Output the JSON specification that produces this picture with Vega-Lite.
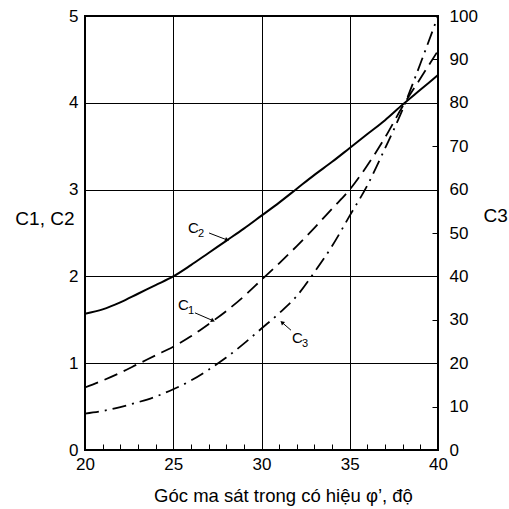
{
  "$schema": "https://vega.github.io/schema/vega-lite/v6.json",
  "width": 353,
  "height": 434,
  "autosize": {"type": "none"},
  "padding": {"left": 85, "top": 16, "right": 71, "bottom": 59},
  "background": "white",
  "config": {
    "font": "Liberation Sans",
    "view": {"stroke": "#000", "strokeWidth": 2},
    "axis": {"labelColor": "#000", "titleColor": "#000", "titleFontWeight": "normal", "labelFlush": false, "labelOverlap": false}
  },
  "datasets": {
    "curves": [
      {"x": 20, "c1": 0.72, "c2": 1.57, "c3": 8.4},
      {"x": 21, "c1": 0.80, "c2": 1.62, "c3": 9.0},
      {"x": 22, "c1": 0.89, "c2": 1.70, "c3": 9.9},
      {"x": 23, "c1": 0.99, "c2": 1.80, "c3": 11.0},
      {"x": 24, "c1": 1.09, "c2": 1.90, "c3": 12.3},
      {"x": 25, "c1": 1.19, "c2": 2.00, "c3": 14.0},
      {"x": 26, "c1": 1.31, "c2": 2.13, "c3": 16.0},
      {"x": 27, "c1": 1.45, "c2": 2.27, "c3": 18.5},
      {"x": 28, "c1": 1.60, "c2": 2.41, "c3": 21.3},
      {"x": 29, "c1": 1.77, "c2": 2.55, "c3": 24.5},
      {"x": 30, "c1": 1.96, "c2": 2.70, "c3": 28.0},
      {"x": 31, "c1": 2.15, "c2": 2.85, "c3": 31.5},
      {"x": 32, "c1": 2.35, "c2": 3.01, "c3": 35.5},
      {"x": 33, "c1": 2.56, "c2": 3.17, "c3": 41.0},
      {"x": 34, "c1": 2.78, "c2": 3.32, "c3": 47.0},
      {"x": 35, "c1": 3.00, "c2": 3.48, "c3": 54.0},
      {"x": 36, "c1": 3.28, "c2": 3.64, "c3": 61.0},
      {"x": 37, "c1": 3.60, "c2": 3.80, "c3": 69.5},
      {"x": 38, "c1": 3.96, "c2": 3.98, "c3": 78.5},
      {"x": 39, "c1": 4.28, "c2": 4.15, "c3": 89.0},
      {"x": 40, "c1": 4.60, "c2": 4.32, "c3": 100.0}
    ],
    "labels": [
      {"name": "C2", "main": "C", "sub": "2", "lx": 25.84, "ly": 2.50, "tx": 27.03, "ty": 2.50, "hx": 28.05, "hy": 2.42},
      {"name": "C1", "main": "C", "sub": "1", "lx": 25.27, "ly": 1.61, "tx": 26.23, "ty": 1.58, "hx": 27.25, "hy": 1.49},
      {"name": "C3", "main": "C", "sub": "3", "lx": 31.73, "ly": 1.23, "tx": 31.67, "ty": 1.38, "hx": 31.16, "hy": 1.47}
    ]
  },
  "resolve": {"scale": {"y": "independent"}, "axis": {"x": "independent", "y": "independent"}},
  "layer": [
    {
      "data": {"name": "curves"},
      "mark": {"type": "line", "color": "#000", "strokeWidth": 2, "interpolate": "monotone"},
      "encoding": {
        "x": {"field": "x", "type": "quantitative", "scale": {"domain": [20, 40], "nice": false},
          "axis": {"orient": "bottom", "values": [20, 25, 30, 35, 40], "grid": true, "gridColor": "#000", "gridOpacity": 1, "gridWidth": 1, "domain": false, "ticks": false, "labelPadding": 6, "labelFontSize": 17, "title": "Góc ma sát trong có hiệu φ’, độ", "titleFontSize": 18.5, "titleX": 198, "titleY": 45, "titleBaseline": "middle", "titleAlign": "center"}},
        "y": {"field": "c2", "type": "quantitative", "scale": {"domain": [0, 5], "nice": false},
          "axis": {"orient": "left", "values": [0, 1, 2, 3, 4, 5], "grid": true, "gridColor": "#000", "gridOpacity": 1, "gridWidth": 1, "domain": false, "ticks": false, "labelPadding": 7, "labelFontSize": 17, "title": "C1, C2", "titleFontSize": 19, "titleAngle": 0, "titleAlign": "right", "titleBaseline": "middle", "titleX": -11, "titleY": 202}}
      }
    },
    {
      "data": {"name": "curves"},
      "mark": {"type": "line", "color": "#000", "strokeWidth": 1.8, "strokeDash": [14, 7], "interpolate": "monotone"},
      "encoding": {
        "x": {"field": "x", "type": "quantitative", "scale": {"domain": [20, 40], "nice": false},
          "axis": {"orient": "bottom", "offset": -6, "values": [21, 22, 23, 24, 26, 27, 28, 29, 31, 32, 33, 34, 36, 37, 38, 39], "grid": false, "domain": false, "labels": false, "ticks": true, "tickSize": 6, "tickColor": "#000", "tickWidth": 1, "title": null}},
        "y": {"field": "c1", "type": "quantitative", "scale": {"domain": [0, 5], "nice": false}, "axis": null}
      }
    },
    {
      "data": {"name": "curves"},
      "mark": {"type": "line", "color": "#000", "strokeWidth": 1.8, "strokeDash": [14, 6, 2, 6], "interpolate": "monotone"},
      "encoding": {
        "x": {"field": "x", "type": "quantitative", "scale": {"domain": [20, 40], "nice": false}, "axis": null},
        "y": {"field": "c3", "type": "quantitative", "scale": {"domain": [0, 100], "nice": false},
          "axis": {"orient": "right", "offset": -6, "values": [0, 10, 20, 30, 40, 50, 60, 70, 80, 90, 100], "grid": false, "domain": false, "ticks": true, "tickSize": 6, "tickColor": "#000", "tickWidth": 1, "labelPadding": 11, "labelFontSize": 17, "title": "C3", "titleFontSize": 19, "titleAngle": 0, "titleAlign": "left", "titleBaseline": "middle", "titleX": 51, "titleY": 199}}
      }
    },
    {
      "data": {"name": "labels"},
      "mark": {"type": "text", "fontSize": 15, "align": "left", "baseline": "alphabetic", "color": "#000"},
      "encoding": {
        "x": {"field": "lx", "type": "quantitative", "scale": {"domain": [20, 40], "nice": false}, "axis": null},
        "y": {"field": "ly", "type": "quantitative", "scale": {"domain": [0, 5], "nice": false}, "axis": null},
        "text": {"field": "main"}
      }
    },
    {
      "data": {"name": "labels"},
      "mark": {"type": "text", "fontSize": 11, "align": "left", "baseline": "alphabetic", "dx": 10, "dy": 4, "color": "#000"},
      "encoding": {
        "x": {"field": "lx", "type": "quantitative", "scale": {"domain": [20, 40], "nice": false}, "axis": null},
        "y": {"field": "ly", "type": "quantitative", "scale": {"domain": [0, 5], "nice": false}, "axis": null},
        "text": {"field": "sub"}
      }
    },
    {
      "data": {"name": "labels"},
      "mark": {"type": "rule", "color": "#000", "strokeWidth": 1},
      "encoding": {
        "x": {"field": "tx", "type": "quantitative", "scale": {"domain": [20, 40], "nice": false}, "axis": null},
        "y": {"field": "ty", "type": "quantitative", "scale": {"domain": [0, 5], "nice": false}, "axis": null},
        "x2": {"field": "hx"},
        "y2": {"field": "hy"}
      }
    },
    {
      "data": {"name": "labels"},
      "transform": [{"filter": "datum.name === 'C2'"}],
      "mark": {"type": "point", "shape": "triangle-right", "filled": true, "color": "#000", "size": 22, "angle": 21, "opacity": 1},
      "encoding": {
        "x": {"field": "hx", "type": "quantitative", "scale": {"domain": [20, 40], "nice": false}, "axis": null},
        "y": {"field": "hy", "type": "quantitative", "scale": {"domain": [0, 5], "nice": false}, "axis": null}
      }
    },
    {
      "data": {"name": "labels"},
      "transform": [{"filter": "datum.name === 'C1'"}],
      "mark": {"type": "point", "shape": "triangle-right", "filled": true, "color": "#000", "size": 22, "angle": 24, "opacity": 1},
      "encoding": {
        "x": {"field": "hx", "type": "quantitative", "scale": {"domain": [20, 40], "nice": false}, "axis": null},
        "y": {"field": "hy", "type": "quantitative", "scale": {"domain": [0, 5], "nice": false}, "axis": null}
      }
    },
    {
      "data": {"name": "labels"},
      "transform": [{"filter": "datum.name === 'C3'"}],
      "mark": {"type": "point", "shape": "triangle-right", "filled": true, "color": "#000", "size": 22, "angle": 222, "opacity": 1},
      "encoding": {
        "x": {"field": "hx", "type": "quantitative", "scale": {"domain": [20, 40], "nice": false}, "axis": null},
        "y": {"field": "hy", "type": "quantitative", "scale": {"domain": [0, 5], "nice": false}, "axis": null}
      }
    }
  ]
}
